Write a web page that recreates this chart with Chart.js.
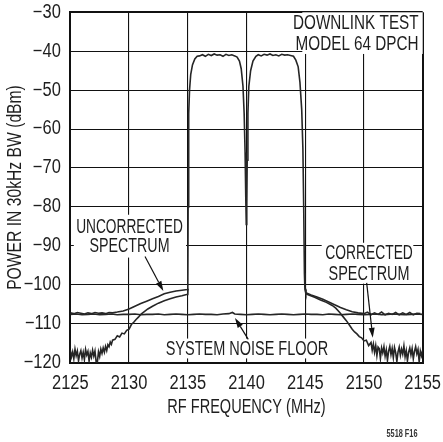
<!DOCTYPE html>
<html><head><meta charset="utf-8">
<script src="https://cdn.jsdelivr.net/npm/chart.js@4.4.1/dist/chart.umd.min.js"></script>
<style>html,body{margin:0;padding:0;background:#fff;}canvas{display:block;}</style>
</head><body>
<canvas id="c" width="443" height="442"></canvas>
<script>
// ---------- DATA ----------
const xTickValues = [2125, 2130, 2135, 2140, 2145, 2150, 2155];
const yTickValues = [-30, -40, -50, -60, -70, -80, -90, -100, -110, -120];

// Uncorrected spectrum (includes the shared carrier band)
const uncorrectedFreq = [
  2125.0, 2125.3, 2125.6, 2125.9, 2126.2, 2126.5, 2126.8, 2127.1, 2127.4, 2127.7, 2128.0, 2128.3, 2128.6,
  2129.0, 2129.5, 2130.0, 2130.5, 2131.0, 2131.5, 2132.0, 2132.5, 2133.0, 2133.5, 2134.0, 2134.5, 2134.95,
  2135.0, 2135.03, 2135.06, 2135.1, 2135.15, 2135.25, 2135.4, 2135.6, 2135.8,
  2136.0, 2136.25, 2136.5, 2136.75, 2137.0, 2137.25, 2137.5, 2137.75, 2138.0, 2138.25, 2138.5, 2138.75, 2139.0,
  2139.2, 2139.4, 2139.55, 2139.7, 2139.8, 2139.88, 2139.94, 2139.98,
  2140.02, 2140.06, 2140.12, 2140.2, 2140.35, 2140.55, 2140.8,
  2141.0, 2141.25, 2141.5, 2141.75, 2142.0, 2142.25, 2142.5, 2142.75, 2143.0, 2143.25, 2143.5, 2143.75, 2144.0,
  2144.2, 2144.4, 2144.55, 2144.7, 2144.8, 2144.87, 2144.93, 2144.97, 2145.0,
  2145.05, 2145.5, 2146.0, 2146.5, 2147.0, 2147.5, 2148.0, 2148.5, 2149.0, 2149.5, 2150.0,
  2150.3, 2150.6, 2150.9, 2151.2, 2151.5, 2151.8, 2152.1, 2152.4, 2152.7, 2153.0, 2153.3, 2153.6, 2153.9, 2154.2, 2154.5, 2154.8, 2155.0
];
const uncorrectedPower = [
  -107.2, -107.4, -107.1, -107.3, -107.5, -107.2, -107.4, -107.1, -107.3, -107.2, -107.4, -107.1, -107.2,
  -107.0, -106.7, -106.2, -105.5, -104.8, -104.2, -103.6, -103.0, -102.3, -101.9, -101.6, -101.4, -101.2,
  -101.0, -80.0, -65.0, -56.0, -50.0, -46.0, -43.5, -42.0, -41.3,
  -41.2, -40.9, -41.3, -40.8, -41.1, -40.7, -41.0, -40.9, -41.3, -40.8, -41.1, -40.9, -41.2,
  -41.5, -42.5, -44.5, -49.0, -56.0, -66.0, -78.0, -84.5,
  -80.0, -68.0, -56.0, -49.0, -45.0, -42.5, -41.3,
  -40.9, -41.2, -40.8, -41.0, -40.7, -41.1, -40.9, -41.2, -40.8, -41.0, -40.9, -41.1,
  -41.3, -42.3, -44.0, -48.0, -55.0, -65.0, -80.0, -97.0, -101.0,
  -101.3, -102.0, -102.6, -103.1, -103.7, -104.4, -105.1, -105.8, -106.4, -106.9, -107.2,
  -107.4, -107.0, -107.7, -107.2, -107.6, -107.0, -107.7, -107.3, -107.6, -107.1, -107.7, -107.2, -107.6, -107.1, -107.7, -107.3, -107.4
];

// Corrected spectrum (flanks only; joins the carrier band at its edges)
const correctedFreq = [
  2125.0, 2125.1, 2125.2, 2125.3, 2125.4, 2125.5, 2125.6, 2125.7, 2125.8, 2125.9,
  2126.0, 2126.1, 2126.2, 2126.3, 2126.4, 2126.5, 2126.6, 2126.7, 2126.8, 2126.9,
  2127.0, 2127.1, 2127.2, 2127.3, 2127.4, 2127.5, 2127.6, 2127.7, 2127.8, 2127.9,
  2128.0, 2128.1, 2128.2, 2128.3, 2128.4, 2128.5, 2128.6, 2128.8, 2129.0, 2129.2, 2129.4, 2129.6, 2129.8,
  2130.0, 2130.2, 2130.4, 2130.6, 2130.8, 2131.0, 2131.3, 2131.6, 2132.0, 2132.5, 2133.0, 2133.5, 2134.0, 2134.5, 2134.9, 2135.0, 2135.02,
  2140.0,
  2145.0, 2145.05, 2145.3, 2145.8, 2146.3, 2146.8, 2147.3, 2147.6, 2147.9, 2148.2, 2148.5, 2148.8, 2149.0, 2149.2, 2149.4, 2149.6, 2149.8,
  2150.0, 2150.2, 2150.4, 2150.6, 2150.7, 2150.8, 2150.9, 2151.0, 2151.1, 2151.2,
  2151.3, 2151.4, 2151.5, 2151.6, 2151.7, 2151.8, 2151.9, 2152.0, 2152.1, 2152.2, 2152.3, 2152.4, 2152.5, 2152.6, 2152.7, 2152.8, 2152.9,
  2153.0, 2153.1, 2153.2, 2153.3, 2153.4, 2153.5, 2153.6, 2153.7, 2153.8, 2153.9, 2154.0, 2154.1, 2154.2, 2154.3, 2154.4, 2154.5, 2154.6, 2154.7, 2154.8, 2154.9, 2155.0
];
const correctedPower = [
  -116.8, -118.5, -117.2, -119.0, -116.5, -118.2, -117.0, -119.5, -117.8, -116.9,
  -118.8, -117.3, -119.2, -116.6, -118.0, -117.1, -119.6, -117.5, -118.6, -116.8,
  -118.3, -117.0, -119.8, -120.0, -117.2, -118.4, -116.5, -117.6, -116.2, -117.3,
  -115.8, -116.9, -115.4, -115.9, -114.7, -115.3, -114.2, -114.0, -113.1, -113.4, -112.4, -112.6, -111.7,
  -111.4, -110.2, -109.6, -108.9, -108.3, -107.6, -106.9, -106.2, -105.5, -104.7, -104.1, -103.6, -103.1, -102.8, -102.5, -102.5, -101.0,
  null,
  -101.0, -102.3, -102.6, -103.2, -103.9, -104.5, -105.3, -106.0, -107.0, -108.1, -109.2, -110.5, -111.4, -112.1, -112.6, -113.3, -113.6,
  -114.4, -114.2, -115.6, -114.8, -116.8, -115.2, -117.3, -115.6, -118.2, -116.0,
  -116.4, -118.9, -116.2, -117.5, -115.9, -118.3, -116.7, -119.4, -117.0, -115.8, -117.9, -116.3, -118.7, -116.1, -117.4, -119.7, -117.2,
  -116.0, -118.1, -116.5, -117.8, -115.7, -118.5, -116.9, -119.5, -117.3, -116.2, -118.0, -116.4, -119.0, -117.1, -115.9, -117.7, -116.6, -119.8, -117.0, -118.2, -116.8
];

// System noise floor
const noiseFreq = [
  2125, 2125.5, 2126, 2126.5, 2127, 2127.5, 2128, 2128.5, 2129, 2129.5, 2130, 2130.5, 2131, 2131.5, 2132, 2132.5,
  2133, 2133.5, 2134, 2134.5, 2135, 2135.5, 2136, 2136.5, 2137, 2137.5, 2138, 2138.5, 2138.8, 2139, 2139.5, 2140,
  2140.5, 2141, 2141.5, 2142, 2142.5, 2143, 2143.5, 2144, 2144.5, 2145, 2145.5, 2146, 2146.5, 2147, 2147.5, 2148,
  2148.5, 2149, 2149.5, 2150, 2150.5, 2151, 2151.5, 2152, 2152.5, 2153, 2153.5, 2154, 2154.5, 2155
];
const noisePower = [
  -107.6, -107.5, -107.7, -107.6, -107.5, -107.7, -107.6, -107.5, -107.7, -107.6, -107.6, -107.5, -107.7, -107.6, -107.6, -107.5,
  -107.7, -107.6, -107.5, -107.6, -107.7, -107.6, -107.5, -107.6, -107.6, -107.7, -107.5, -107.4, -107.1, -107.5, -107.6, -107.7,
  -107.6, -107.5, -107.6, -107.7, -107.6, -107.5, -107.6, -107.7, -107.6, -107.5, -107.6, -107.6, -107.7, -107.5, -107.6, -107.7,
  -107.6, -107.5, -107.6, -107.7, -107.6, -107.5, -107.7, -107.6, -107.5, -107.6, -107.7, -107.6, -107.5, -107.6
];

// ---------- TEXT / ANNOTATIONS (data coordinates) ----------
const FONT = "'Liberation Sans', Arial, sans-serif";
// condensed-face emulation: horizontal squeeze per font size used by the axes
const squeezeBySize = {'19.5': 0.845, '19.4': 0.75, '19.6': 0.80};
(function () {
  const proto = CanvasRenderingContext2D.prototype;
  const orig = proto.fillText;
  proto.fillText = function (t, px, py, mw) {
    const m = /([\d.]+)px/.exec(this.font);
    const f = m ? squeezeBySize[String(parseFloat(m[1]))] : undefined;
    if (f) {
      const w = this.measureText(t).width * f;
      mw = (mw === undefined || mw === null) ? w : Math.min(mw, w);
    }
    return mw === undefined ? orig.call(this, t, px, py) : orig.call(this, t, px, py, mw);
  };
})();

const whiteBoxes = [
  {x0: 2144.75, x1: 2155, y0: -30, y1: -40.7},
  {x0: 2125.3, x1: 2134.85, y0: -82.0, y1: -93.0},
  {x0: 2146.4, x1: 2154.2, y0: -89.2, y1: -99.7},
  {x0: 2132.9, x1: 2147.2, y0: -113.8, y1: -118.9}
];
const notes = [
  {text: 'DOWNLINK TEST', x: 2154.65, y: -32.9, align: 'right', w: 125.6},
  {text: 'MODEL 64 DPCH', x: 2154.65, y: -38.3, align: 'right', w: 123},
  {text: 'UNCORRECTED', x: 2130.04, y: -85.2, align: 'center', w: 106.7},
  {text: 'SPECTRUM', x: 2130.04, y: -90.3, align: 'center', w: 80},
  {text: 'CORRECTED', x: 2150.43, y: -92.0, align: 'center', w: 87.7},
  {text: 'SPECTRUM', x: 2150.43, y: -97.4, align: 'center', w: 81},
  {text: 'SYSTEM NOISE FLOOR', x: 2140.04, y: -116.7, align: 'center', w: 162.6}
];
const arrows = [
  {x0: 2131.36, y0: -92.7, x1: 2132.92, y1: -101.6},
  {x0: 2150.23, y0: -99.5, x1: 2150.75, y1: -113.6},
  {x0: 2140.15, y0: -114.0, x1: 2139.02, y1: -108.5}
];

const toPts = (xs, ys) => xs.map((v, i) => ({x: v, y: ys[i]}));

const annotationPlugin = {
  id: 'annot',
  beforeDatasetsDraw(chart) {
    const {ctx, scales: {x, y}} = chart;
    ctx.save();
    ctx.fillStyle = '#fff';
    whiteBoxes.forEach(b => {
      const px0 = x.getPixelForValue(b.x0), px1 = x.getPixelForValue(b.x1);
      const py0 = y.getPixelForValue(b.y0), py1 = y.getPixelForValue(b.y1);
      ctx.fillRect(Math.min(px0, px1), Math.min(py0, py1), Math.abs(px1 - px0), Math.abs(py1 - py0));
    });
    ctx.restore();
  },
  afterDatasetsDraw(chart) {
    const {ctx, scales: {x, y}} = chart;
    ctx.save();
    ctx.fillStyle = '#1e1e1e';
    ctx.font = '19.5px ' + FONT;
    ctx.textBaseline = 'middle';
    notes.forEach(n => {
      ctx.textAlign = n.align;
      ctx.fillText(n.text, x.getPixelForValue(n.x), y.getPixelForValue(n.y), n.w);
    });
    ctx.strokeStyle = '#111';
    ctx.fillStyle = '#111';
    ctx.lineWidth = 1.2;
    arrows.forEach(a => {
      const x0 = x.getPixelForValue(a.x0), y0 = y.getPixelForValue(a.y0);
      const x1 = x.getPixelForValue(a.x1), y1 = y.getPixelForValue(a.y1);
      const ang = Math.atan2(y1 - y0, x1 - x0);
      const L = 10, W = 3;
      const bx = x1 - L * Math.cos(ang), by = y1 - L * Math.sin(ang);
      ctx.beginPath(); ctx.moveTo(x0, y0); ctx.lineTo(bx, by); ctx.stroke();
      ctx.beginPath();
      ctx.moveTo(x1, y1);
      ctx.lineTo(bx + W * Math.sin(ang), by - W * Math.cos(ang));
      ctx.lineTo(bx - W * Math.sin(ang), by + W * Math.cos(ang));
      ctx.closePath(); ctx.fill();
    });
    ctx.font = 'bold 10px ' + FONT;
    ctx.fillStyle = '#333';
    ctx.textAlign = 'right';
    ctx.fillText('5518 F16', 417.5, 434, 31);
    ctx.restore();
  }
};

const lineStyle = {borderColor: '#262626', borderWidth: 1.6, pointRadius: 0, fill: false, tension: 0, spanGaps: false};

new Chart(document.getElementById('c'), {
  type: 'line',
  data: {
    datasets: [
      Object.assign({label: 'System noise floor', data: toPts(noiseFreq, noisePower)}, lineStyle),
      Object.assign({label: 'Corrected spectrum', data: toPts(correctedFreq, correctedPower)}, lineStyle),
      Object.assign({label: 'Uncorrected spectrum', data: toPts(uncorrectedFreq, uncorrectedPower)}, lineStyle)
    ]
  },
  options: {
    responsive: false,
    animation: false,
    devicePixelRatio: 1,
    layout: {padding: 0},
    plugins: {legend: {display: false}, tooltip: {enabled: false}},
    scales: {
      x: {
        type: 'linear', min: 2125, max: 2155,
        afterBuildTicks: s => { s.ticks = xTickValues.map(v => ({value: v})); },
        afterFit: s => { s.height = 79.3; s.paddingLeft = 0; s.paddingRight = 20.3; },
        grid: {color: '#111', lineWidth: c => (c.index === 0 || c.index === xTickValues.length - 1) ? 2 : 1.1, drawTicks: false},
        border: {display: true, color: '#111', width: 2},
        ticks: {color: '#1e1e1e', font: {family: FONT, size: 19.5}, padding: 9.5, callback: v => String(v), maxRotation: 0, autoSkip: false},
        title: {display: true, text: 'RF FREQUENCY (MHz)', color: '#1e1e1e', font: {family: FONT, size: 19.4}, padding: {top: 0, bottom: 22.5}}
      },
      y: {
        type: 'linear', min: -120, max: -30,
        afterBuildTicks: s => { s.ticks = yTickValues.slice().reverse().map(v => ({value: v})); },
        afterFit: s => { s.width = 70.3; s.paddingTop = 12.3; s.paddingBottom = 0; },
        grid: {color: '#111', lineWidth: c => (c.tick && (c.tick.value === -30 || c.tick.value === -120)) ? 2 : 1.1, drawTicks: false},
        border: {display: true, color: '#111', width: 2},
        ticks: {color: '#1e1e1e', font: {family: FONT, size: 19.5}, padding: 9.5, callback: v => '\u2212' + Math.abs(v), autoSkip: false},
        title: {display: true, text: 'POWER IN 30kHz BW (dBm)', color: '#1e1e1e', font: {family: FONT, size: 19.6}, padding: {top: 3.4, bottom: 0}}
      }
    }
  },
  plugins: [annotationPlugin]
});
</script>
</body></html>
